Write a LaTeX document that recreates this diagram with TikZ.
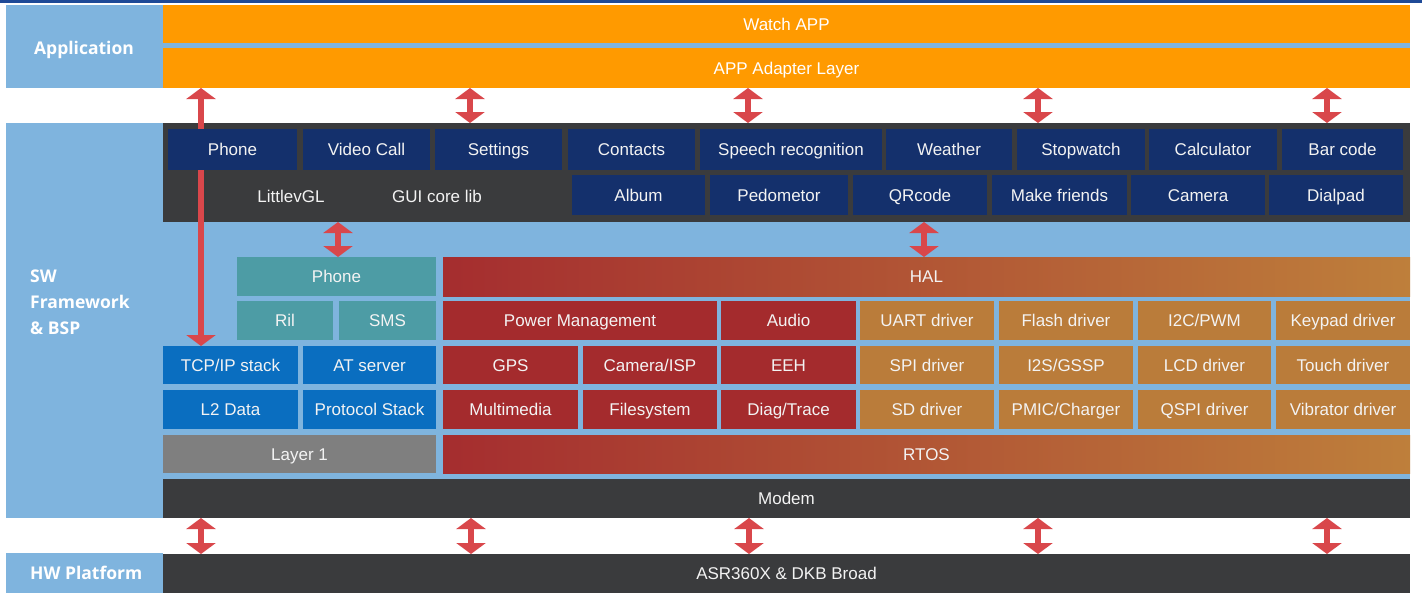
\documentclass[tikz,border=0pt]{standalone}
\usepackage{fontspec}
\setmainfont{Liberation Sans}
\newfontfamily\lblfont{Open Sans}
\usetikzlibrary{arrows.meta}
\definecolor{lblue}{HTML}{7FB4DE}
\definecolor{orng}{HTML}{FF9A00}
\definecolor{navy}{HTML}{14306C}
\definecolor{darkbar}{HTML}{3A3B3D}
\definecolor{teal2}{HTML}{4D9CA5}
\definecolor{blu}{HTML}{0A6EC0}
\definecolor{gry}{HTML}{7F7F7F}
\definecolor{redbox}{HTML}{A42B2D}
\definecolor{gold}{HTML}{BA7C3A}
\definecolor{halL}{HTML}{A52D2F}
\definecolor{halR}{HTML}{BE7F3B}
\definecolor{arrred}{HTML}{D9474B}
\definecolor{topline}{HTML}{1F4A97}
\definecolor{txt}{HTML}{F3F3F3}
\newcommand\blk[7]{\node[#6, minimum width={(#4-#2)*1pt}, minimum height={(#5-#3)*1pt}] (#1) at ({(#2+#4)/2},{(#3+#5)/2}) {#7};}
\tikzset{
  base/.style={inner sep=0pt, outer sep=0pt, text=txt, font=\fontsize{17}{20}\selectfont, text height=12.2pt, text depth=0pt},
  bg/.style={base, fill=lblue},
  orbox/.style={base, fill=orng, text=white},
  dkbox/.style={base, fill=darkbar},
  appbox/.style={base, fill=navy},
  tealbox/.style={base, fill=teal2},
  bluebox/.style={base, fill=blu},
  graybox/.style={base, fill=gry},
  redb/.style={base, fill=redbox},
  goldb/.style={base, fill=gold},
  grad/.style={base, left color=halL, right color=halR},
  lbl/.style={inner sep=0pt, text=white, font=\lblfont\bfseries\fontsize{17.5}{26}\selectfont},
  dbl/.style={draw=arrred, line width=6.5pt, {Triangle[width=29pt,length=11pt]}-{Triangle[width=29pt,length=11pt]}}
}
\begin{document}
\begin{tikzpicture}[x=1pt,y=-1pt]
\useasboundingbox (0,0) rectangle (1422,595);
\fill[white] (0,0) rectangle (1422,595);
\fill[topline] (0,0) rectangle (1422,2.5);
% backgrounds
\blk{appbg}{6}{5}{1410}{88}{bg}{}
\blk{swbg}{6}{123}{1410}{518}{bg}{}
\blk{hwlbl}{6}{553}{163}{593}{bg}{}
\node[lbl] (lapp) at (84,50) {Application};
\node[lbl, align=left, anchor=west] (lsw) at (30,302) {SW\\Framework\\\& BSP};
\node[lbl, anchor=west] (lhw) at (30,573) {HW Platform};
% application
\blk{watch}{163}{5}{1410}{43}{orbox}{Watch APP}
\blk{adapter}{163}{48}{1410}{88}{orbox}{APP Adapter Layer}
% GUI bar
\blk{appbar}{163}{123}{1410}{222}{dkbox}{}
\node[base] (lvgl) at (291,196) {LittlevGL};
\node[base] (gui) at (437,196) {GUI core lib};
% long arrow (behind the app boxes)
\coordinate (cA) at (201,0);
\blk{tcp}{163}{346}{298}{384}{bluebox}{TCP/IP stack}
\draw[dbl] (adapter.south -| cA) -- (tcp.north -| cA);
% app row 1
\blk{aphone}{168}{129}{297}{170}{appbox}{Phone}
\blk{avideo}{303}{129}{430}{170}{appbox}{Video Call}
\blk{asett}{435}{129}{562}{170}{appbox}{Settings}
\blk{acont}{568}{129}{695}{170}{appbox}{Contacts}
\blk{aspeech}{700}{129}{882}{170}{appbox}{Speech recognition}
\blk{aweath}{886}{129}{1012}{170}{appbox}{Weather}
\blk{astop}{1017}{129}{1145}{170}{appbox}{Stopwatch}
\blk{acalc}{1149}{129}{1277}{170}{appbox}{Calculator}
\blk{abar}{1282}{129}{1403}{170}{appbox}{Bar code}
% app row 2
\blk{aalbum}{572}{175}{705}{215}{appbox}{Album}
\blk{aped}{710}{175}{848}{215}{appbox}{Pedometor}
\blk{aqr}{853}{175}{987}{215}{appbox}{QRcode}
\blk{afr}{992}{175}{1127}{215}{appbox}{Make friends}
\blk{acam}{1131}{175}{1265}{215}{appbox}{Camera}
\blk{adial}{1269}{175}{1403}{215}{appbox}{Dialpad}
% left stack
\blk{pphone}{237}{257}{436}{296}{tealbox}{Phone}
\blk{ril}{237}{301}{333}{340}{tealbox}{Ril}
\blk{sms}{339}{301}{436}{340}{tealbox}{SMS}
\blk{atsrv}{303}{346}{436}{384}{bluebox}{AT server}
\blk{l2}{163}{390}{298}{429}{bluebox}{L2 Data}
\blk{proto}{303}{390}{436}{429}{bluebox}{Protocol Stack}
\blk{layer1}{163}{435}{436}{473}{graybox}{Layer 1}
% HAL area
\blk{hal}{443}{257}{1410}{296}{grad}{HAL}
\blk{pm}{443}{301}{717}{340}{redb}{Power Management}
\blk{audio}{721}{301}{856}{340}{redb}{Audio}
\blk{uart}{860}{301}{994}{340}{goldb}{UART driver}
\blk{flash}{999}{301}{1133}{340}{goldb}{Flash driver}
\blk{i2c}{1138}{301}{1271}{340}{goldb}{I2C/PWM}
\blk{keypad}{1276}{301}{1410}{340}{goldb}{Keypad driver}
\blk{gps}{443}{346}{578}{384}{redb}{GPS}
\blk{camisp}{583}{346}{717}{384}{redb}{Camera/ISP}
\blk{eeh}{721}{346}{856}{384}{redb}{EEH}
\blk{spi}{860}{346}{994}{384}{goldb}{SPI driver}
\blk{i2s}{999}{346}{1133}{384}{goldb}{I2S/GSSP}
\blk{lcd}{1138}{346}{1271}{384}{goldb}{LCD driver}
\blk{touch}{1276}{346}{1410}{384}{goldb}{Touch driver}
\blk{mm}{443}{390}{578}{429}{redb}{Multimedia}
\blk{fs}{583}{390}{717}{429}{redb}{Filesystem}
\blk{diag}{721}{390}{856}{429}{redb}{Diag/Trace}
\blk{sd}{860}{390}{994}{429}{goldb}{SD driver}
\blk{pmic}{999}{390}{1133}{429}{goldb}{PMIC/Charger}
\blk{qspi}{1138}{390}{1271}{429}{goldb}{QSPI driver}
\blk{vib}{1276}{390}{1410}{429}{goldb}{Vibrator driver}
\blk{rtos}{443}{435}{1410}{473}{grad}{RTOS}
\blk{modem}{163}{479}{1410}{518}{dkbox}{Modem}
\blk{hw}{163}{554}{1410}{593}{dkbox}{ASR360X \& DKB Broad}
% arrows
\foreach \cx in {470,748,1038,1327}{
  \coordinate (cx) at (\cx,0);
  \draw[dbl] (adapter.south -| cx) -- (appbar.north -| cx);
}
\coordinate (m1) at (338,0);
\coordinate (m2) at (924,0);
\draw[dbl] (appbar.south -| m1) -- (pphone.north -| m1);
\draw[dbl] (appbar.south -| m2) -- (hal.north -| m2);
\foreach \cx in {201,471,749,1038,1327}{
  \coordinate (cx) at (\cx,0);
  \draw[dbl] (modem.south -| cx) -- (hw.north -| cx);
}
\end{tikzpicture}
\end{document}
